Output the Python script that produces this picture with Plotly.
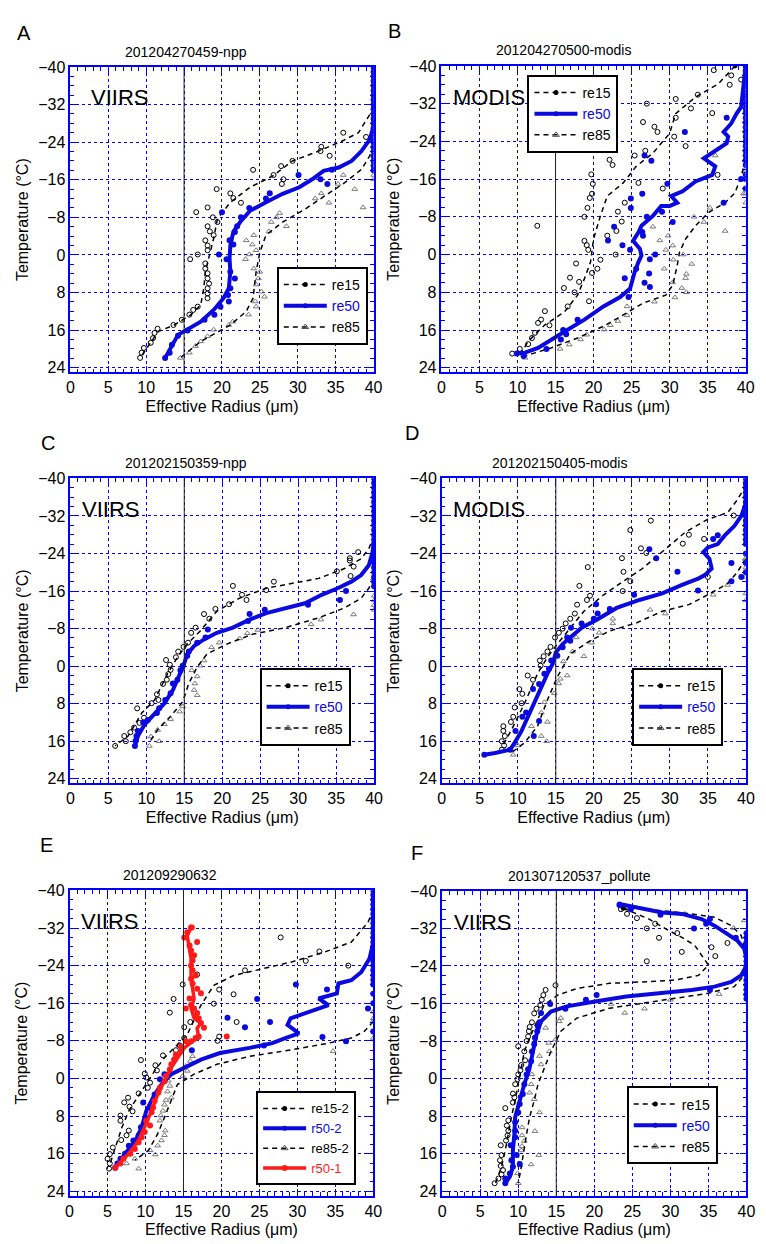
import plotly.graph_objects as go

# ======================= DATA (effective radius um, temperature C) =======================
# ---- Panel A : 201204270459-npp ----
A_re15_pts = [(9.2,21.9),(9.4,20.8),(9.7,19.8),(10.6,18.7),(10.9,17.7),(11.1,16.6),(11.5,15.7),(13.6,14.9),(14.7,13.8),
              (15.7,12.7),(16.2,11.7),(16.8,11.0),(18.1,9.2),(18.1,8.2),(18.1,7.1),(18.3,6.1),(18.1,5.0),(18.1,3.9),
              (17.8,2.9),(17.8,1.8),(15.8,0.9),(16.8,-0.1),(18.1,-1.0),(18.1,-2.0),(17.8,-3.1),(18.9,-4.2),(18.4,-5.0),
              (18.1,-6.1),(19.4,-7.0),(18.8,-8.0),(16.6,-9.1),(18.1,-10.1),(22.5,-11.1),(21.5,-12.1),(21.1,-13.1),
              (19.3,-14.0),(24.1,-18.1),(28.1,-16.1),(27.9,-15.1),(26.8,-17.0),(27.8,-18.9),(29.3,-20.0),(34.2,-21.1),
              (33.0,-22.1),(33.1,-23.0),(36.0,-26.0),(39.0,-25.1)]
A_re15_curve = [(9.2,21.9),(11.6,16.3),(13.7,14.9),(15.9,12.7),(17.2,10.6),(17.6,7.1),(17.8,3.6),(18.9,-3.5),(19.4,-7.7),
                (21.1,-11.2),(23.7,-14.4),(26.7,-16.8),(29.3,-20.0),(32.3,-21.8),(35.8,-24.2),(38.0,-26.0),(39.5,-29.9),(40,-31.6)]
A_re50_pts = [(12.5,21.9),(13.1,20.8),(13.4,19.1),(14.2,17.2),(15.45,16.1),(17.7,13.8),(19.0,12.7),(19.8,11.0),(20.9,9.9),
              (20.8,8.5),(21.1,7.1),(21.7,5.0),(21.1,3.6),(20.6,0.9),(19.6,-0.1),(21.5,-2.2),(21.0,-3.1),(21.7,-4.9),
              (22.0,-6.1),(22.5,-8.0),(20.0,-9.1),(23.6,-10.0),(25.8,-12.0),(26.3,-13.1),(30.1,-17.0),(33.0,-16.1),
              (33.9,-15.1),(34.5,-18.1)]
A_re50_col40 = [-40,-39,-38,-37,-36,-35,-34,-33,-32,-31,-30,-29,-28,-27,-26,-25,-24,-23,-22,-21,-20,-19,-18]
A_re50_curve = [(12.5,21.9),(14.2,17.0),(15.45,15.9),(17.2,14.2),(18.9,11.7),(20.2,9.2),(20.9,7.1),(21.1,3.6),(21.0,0.8),
                (21.1,-2.0),(21.5,-4.9),(22.4,-7.0),(23.7,-9.4),(25.8,-11.2),(28.0,-13.0),(30.2,-14.4),(31.9,-16.1),
                (33.4,-17.9),(35.4,-18.6),(37.1,-20.0),(38.4,-22.1),(39.5,-24.6),(40,-27.4),(40,-40)]
A_re85_pts = [(14.5,21.9),(15.7,20.8),(16.5,19.4),(17.2,18.4),(18.1,17.3),(18.9,15.9),(20.9,14.9),(21.4,14.2),(23.5,12.7),
              (24.5,11.0),(24.4,9.9),(25.6,8.9),(25.2,7.8),(24.5,6.3),(24.8,5.0),(25.0,3.6),(24.2,2.9),(23.1,0.9),
              (23.6,-0.1),(24.5,-1.0),(24.0,-2.2),(23.2,-3.1),(24.2,-4.2),(26.2,-5.0),(26.5,-7.0),(27.2,-8.0),(27.6,-8.9),
              (28.5,-6.1),(32.3,-12.0),(33.1,-13.1),(34.1,-11.1),(35.3,-15.1),(36.0,-17.0),(37.5,-14.0),(38.6,-10.1),
              (40,-16.1),(40,-17.0),(40,-18.0)]
A_re85_curve = [(14.5,21.9),(17.2,18.4),(21.1,14.9),(23.2,12.0),(24.1,9.2),(24.5,3.6),(25.0,-0.6),(25.8,-4.2),(28.0,-7.0),
                (31.0,-9.8),(33.6,-12.6),(36.2,-15.4),(38.4,-18.2),(39.5,-21.1),(40,-23.2)]

# ---- Panel B : 201204270500-modis ----
B_re15_pts = [(9.3,21.0),(10.3,20.0),(11.4,19.0),(11.9,17.7),(12.3,16.6),(12.7,14.5),(13.1,13.8),(13.6,12.0),(14.2,15.0),
              (16.6,11.0),(16.1,7.1),(16.9,4.9),(17.5,8.0),(17.7,1.9),(18.1,5.8),(19.4,9.9),(19.8,3.9),(20.5,3.0),
              (20.9,1.1),(19.3,-1.0),(19.1,-2.0),(18.8,-2.9),(18.8,-8.0),(19.2,-9.9),(19.5,-12.0),(19.8,-12.9),
              (19.9,-15.0),(19.7,-17.0),(21.8,-4.0),(23.0,-5.0),(23.2,-9.1),(23.7,-7.0),(24.1,-11.0),(22.9,0.0),
              (22.1,-20.1),(22.5,-19.0),(12.6,-6.1),(25.4,-21.0),(25.9,-15.2),(26.8,-22.0),(26.5,-28.1),(27.0,-32.0),
              (28.0,-27.1),(28.4,-26.0),(29.1,-14.0),(30.6,-25.0),(30.8,-29.0),(30.8,-33.0),(32.1,-23.0),(32.8,-31.0),
              (33.7,-33.9),(35.6,-30.0),(35.8,-39.1),(36.3,-16.9),(37.9,-36.0),(38.1,-38.0),(39.4,-37.1)]
B_re15_curve = [(10.1,21.9),(11.4,18.4),(13.6,14.9),(16.2,12.1),(17.9,8.6),(18.8,5.1),(19.6,1.6),(20.0,-3.3),(20.9,-8.2),
                (21.8,-12.4),(23.9,-15.2),(25.6,-18.7),(27.8,-21.5),(30.0,-25.7),(30.8,-29.9),(33.4,-33.4),(36.4,-36.2),(38.6,-40)]
B_re50_pts = [(9.9,21.0),(10.8,21.5),(13.8,20.0),(15.7,18.0),(16.0,16.0),(16.4,16.9),(17.9,13.8),(24.1,5.0),(24.6,9.0),
              (26.5,-4.0),(26.7,6.0),(27.4,6.9),(27.3,4.0),(27.4,1.0),(28.1,0.0),(24.8,-1.0),(23.8,-2.0),(21.9,-3.0),
              (22.7,-5.9),(25.6,3.0),(26.4,-4.8),(27.0,-8.0),(29.0,-9.1),(30.4,-6.9),(24.9,-11.9),(24.9,-9.9),
              (26.4,-12.9),(29.7,-15.0),(26.7,-21.0),(27.6,-19.9),(32.0,-26.0),(37.5,-29.0),(37.1,-11.0),(39.4,-16.0)]
B_re50_col40 = [-40,-39,-38,-37,-36,-35,-34,-33,-32,-31,-30,-29,-28,-27,-26,-25,-24,-23,-22,-21,-20,-19,-17,-16,-14]
B_re50_curve = [(9.9,21.0),(11.0,20.8),(12.7,19.8),(14.4,18.0),(16.2,16.3),(18.8,13.8),(21.3,11.0),(23.5,9.0),(24.8,7.2),
                (25.4,3.7),(25.9,1.6),(26.3,0.2),(26.1,-1.2),(25.2,-2.9),(25.9,-4.7),(26.3,-6.1),(27.8,-8.2),(28.9,-10.3),
                (30.0,-10.3),(31.0,-11.0),(30.2,-12.4),(31.7,-13.4),(33.4,-15.5),(35.6,-16.9),(36.0,-18.7),(34.5,-20.4),
                (35.6,-21.5),(37.5,-23.6),(37.7,-25.0),(37.1,-26.0),(38.1,-27.8),(38.8,-29.9),(39.4,-31.3),(39.7,-34.8),(40,-40)]
B_re85_pts = [(11.0,21.9),(15.6,20.0),(16.8,19.1),(18.3,18.0),(19.1,17.0),(21.4,15.9),(22.2,15.0),(23.2,14.1),(24.4,12.9),
              (24.4,11.0),(28.0,10.0),(30.7,9.1),(31.6,7.1),(32.2,8.0),(32.1,5.0),(32.2,4.1),(30.4,5.9),(29.3,3.0),
              (32.9,2.0),(30.5,1.1),(31.8,0.0),(29.5,-1.0),(28.7,-3.0),(29.8,-4.0),(30.4,-1.9),(27.8,-5.9),(33.2,-8.0),
              (34.5,-6.9),(35.3,-9.9),(37.3,-5.0),(36.0,-21.0),(39.7,-12.9),(40,-11.0),(40,-13.0),(40,-16.0),(40,-18.0)]
B_re85_curve = [(11.0,21.5),(14.4,19.8),(17.9,17.7),(21.3,15.2),(23.9,12.8),(26.5,10.3),(29.5,8.6),(30.4,6.5),(31.0,2.3),
                (31.3,-0.5),(32.1,-3.3),(33.4,-6.1),(35.1,-8.9),(37.3,-11.0),(38.6,-13.1),(39.4,-16.6),(40,-20.1)]

# ---- Panel C : 201202150359-npp ----
C_re15_pts = [(5.9,17.0),(7.3,16.0),(7.1,14.9),(7.9,14.1),(8.4,13.1),(9.1,12.1),(9.7,11.0),(8.8,9.0),(10.7,7.9),(11.6,7.2),
              (11.4,6.0),(12.2,3.8),(12.7,2.9),(12.9,1.7),(13.2,0.8),(12.6,-1.3),(13.1,-0.3),(13.9,-1.9),(14.2,-3.1),
              (14.9,-4.1),(15.5,-5.0),(15.9,-7.1),(16.5,-8.2),(17.6,-11.1),(18.3,-10.1),(19.1,-12.2),(20.9,-13.2),
              (21.4,-17.1),(22.6,-15.2),(23.2,-14.1),(25.8,-16.2),(26.8,-18.0),(35.1,-20.2),(36.9,-19.2),(37.3,-21.2),
              (36.8,-22.5),(37.9,-24.3),(36.8,-23.0)]
C_re15_curve = [(5.9,17.0),(7.6,14.9),(9.4,10.0),(11.1,7.2),(12.8,1.6),(14.1,-1.9),(15.4,-4.7),(17.1,-7.5),(19.3,-11.7),
                (22.3,-14.5),(25.8,-16.6),(29.2,-17.6),(32.7,-18.7),(36.1,-20.8),(38.3,-22.9),(39.3,-25.0),(40,-27.8)]
C_re50_pts = [(8.5,17.0),(8.6,15.9),(8.7,14.9),(8.9,13.8),(9.6,12.0),(10.2,11.5),(11.4,10.0),(11.7,9.0),(12.5,7.2),
              (13.2,5.8),(13.5,3.7),(14.1,2.9),(14.5,0.9),(14.8,-0.1),(15.4,-2.2),(15.6,-3.1),(16.7,-5.0),(17.8,-6.1),
              (18.1,-7.8),(23.6,-11.1),(23.4,-9.6),(25.6,-12.0),(31.3,-13.1),(35.5,-14.1),(36.3,-16.0)]
C_re50_col40 = [-40,-39,-38,-37,-36,-35,-34,-33,-32,-31,-30,-29,-28,-27,-26,-25,-24,-23,-22,-21,-20,-19,-18,-17]
C_re50_curve = [(8.5,17.0),(8.9,14.9),(9.8,12.4),(11.1,10.3),(12.4,7.9),(13.5,5.1),(14.3,2.3),(14.9,-0.1),(15.4,-2.6),
                (16.3,-4.3),(17.6,-5.7),(19.3,-7.1),(21.4,-8.2),(23.6,-9.9),(25.8,-11.3),(28.3,-12.4),(30.9,-13.4),
                (33.1,-15.2),(35.2,-16.6),(37.0,-18.0),(38.3,-19.4),(39.3,-21.5),(39.8,-24.3),(40,-27.1),(40,-40)]
C_re85_pts = [(10.4,17.0),(11.7,16.0),(10.6,15.0),(11.5,13.6),(12.4,12.4),(13.2,11.3),(14.4,9.7),(14.8,8.6),(16.7,6.2),
              (16.3,5.1),(16.4,3.7),(16.7,2.2),(16.0,0.9),(17.1,-0.1),(17.6,-1.2),(18.6,-4.0),(19.6,-5.0),(22.3,-5.9),
              (23.3,-7.0),(24.7,-7.7),(31.7,-8.9),(33.0,-9.9),(37.3,-11.0),(40,-12.0),(40,-13.0),(40,-14.0),(40,-15.0)]
C_re85_curve = [(10.4,16.3),(11.5,13.5),(13.2,10.7),(14.8,7.6),(15.6,3.7),(16.7,0.2),(18.0,-2.6),(20.6,-4.7),(24.0,-6.8),
                (28.3,-8.2),(32.7,-10.3),(36.1,-12.4),(38.3,-14.5),(39.3,-16.6),(40,-18.7)]

# ---- Panel D : 201202150405-modis ----
D_re15_pts = [(7.9,17.8),(8.2,16.9),(7.9,16.0),(8.3,14.9),(8.1,13.8),(8.1,12.8),(9.1,11.9),(9.4,10.8),(9.6,8.8),(10.5,7.9),
              (10.6,5.9),(10.2,4.9),(11.3,2.0),(12.0,2.9),(13.0,-0.1),(12.9,-1.2),(13.4,-2.1),(13.9,-3.1),(14.3,-4.1),
              (14.9,-6.1),(15.4,-7.1),(15.9,-8.0),(16.3,-9.1),(16.9,-10.1),(17.5,-11.2),(17.8,-13.1),(19.1,-14.1),
              (19.5,-15.0),(18.1,-17.1),(19.2,-21.1),(23.8,-16.0),(23.9,-20.1),(23.7,-23.0),(24.8,-18.1),(24.8,-29.0),
              (26.2,-25.1),(26.9,-24.1),(27.5,-31.0),(31.7,-26.1),(32.5,-28.0),(34.5,-27.1),(35.0,-19.0),(38.4,-32.1)]
D_re15_curve = [(7.9,17.3),(9.2,13.5),(10.9,7.9),(12.6,1.6),(13.9,-1.9),(15.2,-4.7),(16.9,-8.2),(18.7,-11.7),(21.3,-15.2),
                (23.8,-18.0),(26.4,-20.8),(29.0,-24.3),(32.0,-28.5),(35.0,-31.3),(37.6,-32.7),(38.9,-35.5),(40,-38.6)]
D_re50_pts = [(5.6,18.9),(9.0,17.8),(9.7,13.8),(10.6,10.8),(12.0,4.9),(12.8,11.7),(12.1,14.9),(11.1,9.9),(12.8,3.8),
              (13.5,1.6),(14.1,0.6),(14.4,-1.2),(15.2,-2.2),(15.9,-4.0),(16.5,-6.1),(17.0,-8.2),(16.9,-5.4),(18.4,-9.1),
              (20.0,-10.1),(20.5,-11.2),(20.3,-13.2),(22.1,-12.2),(25.3,-15.2),(31.0,-20.1),(33.7,-16.1),(27.3,-24.9),
              (28.2,-23.0),(36.3,-27.9),(38.1,-22.0),(38.1,-18.1),(39.4,-19.0),(35.7,-27.1)]
D_re50_col40 = [-40,-39,-38,-37,-36,-35,-34,-33,-32,-31,-30,-29,-28,-27,-26,-24,-22,-20]
D_re50_curve = [(5.6,18.9),(7.0,18.5),(9.0,17.8),(9.6,16.3),(10.5,13.8),(11.3,11.0),(12.2,7.9),(13.1,4.4),(13.9,1.6),
                (14.6,-0.5),(15.0,-2.9),(15.9,-4.7),(16.9,-6.1),(18.4,-8.2),(20.4,-9.9),(23.0,-12.4),(26.0,-14.1),
                (29.0,-15.5),(31.6,-17.3),(33.8,-18.7),(34.6,-19.4),(35.5,-20.8),(35.2,-22.9),(34.4,-24.3),(35.0,-25.3),
                (36.3,-26.0),(37.2,-27.8),(38.5,-29.9),(39.4,-32.0),(40,-34.8),(40,-40)]
D_re85_pts = [(9.4,18.9),(10.0,16.9),(11.8,12.8),(13.1,14.9),(13.8,16.0),(13.1,9.9),(13.5,7.7),(13.9,11.9),(14.8,5.8),
              (15.4,3.7),(15.6,2.7),(16.5,2.0),(16.0,-1.0),(17.2,-3.1),(17.7,-6.1),(18.7,-2.1),(19.7,-5.0),(19.8,-8.0),
              (20.7,-7.1),(22.5,-10.1),(22.5,-9.1),(27.4,-12.0),(29.4,-11.2),(35.7,-15.2),(37.6,-17.3),(40,-14.0),
              (40,-15.5),(40,-19.0),(40,-21.0)]
D_re85_curve = [(9.2,18.4),(10.9,16.3),(12.6,12.8),(13.9,7.2),(15.2,2.3),(16.9,-2.6),(19.5,-5.4),(22.1,-7.5),(25.6,-9.2),
                (29.0,-11.7),(32.5,-13.1),(35.0,-15.2),(37.6,-17.6),(38.9,-20.1),(40,-22.9)]

# ---- Panel E : 201209290632 ----
E_re15_pts = [(5.2,19.2),(5.3,18.1),(5.0,17.1),(5.3,16.1),(5.7,14.7),(6.8,13.1),(7.5,12.1),(7.8,11.1),(6.7,9.0),(6.7,7.9),
              (8.3,7.0),(7.9,6.0),(7.2,5.1),(7.7,4.1),(9.1,3.2),(10.3,2.0),(10.6,0.9),(10.1,-0.2),(9.9,-1.0),(9.4,-3.9),
              (11.5,-1.7),(11.3,-2.8),(12.3,-4.9),(14.0,-6.0),(14.5,-7.0),(15.1,-8.6),(19.7,-8.9),(19.5,-8.0),(22.0,-12.0),
              (19.0,-15.9),(19.7,-18.9),(21.6,-17.9),(13.7,-16.9),(13.2,-14.0),(15.1,-10.9),(15.9,-12.0),(14.9,-20.0),
              (16.8,-22.1),(23.1,-23.0),(31.1,-25.0),(32.9,-27.0),(36.7,-24.0),(27.8,-30.0)]
E_re15_curve = [(5.2,18.8),(6.0,14.6),(6.9,10.4),(7.8,6.9),(9.5,2.7),(11.2,-1.6),(12.5,-4.4),(13.8,-6.5),(15.5,-9.3),
                (17.3,-15.6),(19.0,-19.8),(21.6,-21.9),(25.5,-23.3),(29.3,-24.8),(33.6,-26.9),(37.1,-29.0),(39.3,-33.2),(40,-36.0)]
E_r502_pts = [(6.0,19.0),(6.3,18.1),(6.7,17.1),(7.3,16.0),(7.8,14.3),(8.4,13.2),(9.1,12.1),(9.4,10.4),(9.7,5.1),(10.0,8.3),
              (10.6,6.2),(11.2,3.4),(11.9,0.2),(12.5,-0.9),(13.8,-4.0),(16.1,-6.0),(20.8,-12.9),(23.1,-10.9),(24.7,-16.9),
              (26.4,-12.0),(25.6,-7.0),(29.8,-20.0),(33.3,-8.8),(33.9,-18.9),(36.4,-7.9),(39.3,-14.9),(40,-10.0),
              (40,-16.0),(40,-18.0)]
E_r502_col40 = [-40,-39,-38,-37,-36,-35,-34,-33,-32,-31,-30,-29,-28,-27,-26,-25,-24,-23,-22,-21,-20]
E_r502_curve = [(6.0,19.0),(7.3,16.0),(8.6,13.5),(9.5,10.4),(10.1,6.9),(11.2,3.4),(12.1,1.3),(13.4,-0.9),(15.1,-2.3),
                (17.3,-4.0),(19.8,-5.4),(23.7,-6.5),(26.7,-7.5),(28.5,-8.6),(30.2,-9.6),(29.3,-10.7),(28.7,-11.4),
                (29.1,-12.8),(31.1,-13.9),(32.8,-14.9),(34.1,-15.6),(32.8,-17.0),(35.2,-18.1),(35.4,-20.2),(37.1,-20.9),
                (38.4,-22.6),(39.5,-25.5),(40,-29.0),(40,-40)]
E_re852_pts = [(7.5,18.1),(9.1,19.2),(8.6,17.1),(10.6,15.3),(11.3,16.2),(11.6,14.3),(12.1,13.2),(12.5,12.1),(12.6,11.1),
               (11.9,9.0),(12.0,7.9),(12.3,6.9),(12.5,5.6),(12.7,4.6),(13.4,4.1),(12.9,2.8),(13.2,1.6),(13.0,0.5),
               (14.9,-0.5),(15.5,-1.6),(15.3,-2.6),(15.9,-3.7),(16.2,-4.7),(34.7,-5.8),(40,-8.6),(40,-12.8),(40,-14.2)]
E_re852_curve = [(8.6,17.4),(10.4,15.3),(11.6,11.8),(12.5,8.3),(13.4,4.8),(14.2,1.3),(16.4,-0.9),(19.4,-3.0),(23.7,-4.7),
                 (29.3,-6.1),(34.1,-7.5),(37.1,-8.6),(38.8,-10.0),(40,-12.1)]
E_r501_pts = [(6.04,19.0),(6.7,18.1),(7.1,17.1),(8.0,16.0),(8.6,15.0),(9.1,13.6),(9.5,12.5),(9.9,11.4),(10.6,10.0),
              (10.1,9.0),(10.8,7.2),(11.0,6.2),(11.2,4.8),(11.7,3.0),(11.9,2.0),(12.5,0.6),(12.7,-0.5),(13.2,-1.9),
              (13.4,-3.0),(13.8,-4.0),(14.0,-5.1),(14.7,-5.8),(14.7,-6.8),(15.3,-7.9),(16.0,-7.9),(16.6,-8.6),
              (17.0,-8.9),(20.7,-8.9),(17.7,-10.8),(17.3,-11.8),(17.0,-12.8),(16.8,-13.9),(16.4,-14.9),(15.3,-14.9),
              (16.0,-15.6),(15.8,-17.0),(17.3,-18.1),(16.8,-19.1),(16.2,-20.2),(16.0,-21.2),(16.6,-21.9),(16.2,-23.0),
              (16.0,-24.0),(16.2,-25.1),(16.4,-26.2),(16.0,-27.2),(15.8,-28.3),(16.8,-29.0),(15.1,-30.0),(15.5,-31.1),
              (16.1,-32.1)]
E_r501_curve = [(6.0,19.0),(7.8,16.0),(9.1,13.2),(9.9,10.4),(10.8,6.9),(11.6,3.4),(12.5,0.5),(13.4,-2.3),(14.2,-4.4),
                (15.1,-6.5),(16.2,-7.9),(17.0,-8.6),(16.8,-10.7),(17.3,-11.7),(16.4,-12.8),(16.0,-14.9),(16.4,-17.0),
                (16.2,-19.1),(16.0,-21.2),(16.0,-23.3),(16.0,-25.5),(15.7,-28.3),(15.5,-30.4),(16.0,-32.1)]

# ---- Panel F : 201307120537_pollute ----
F_re15_pts = [(6.9,22.3),(7.4,21.3),(7.8,20.4),(8.0,19.5),(7.7,18.6),(7.6,17.4),(7.8,16.3),(7.7,14.2),(8.4,13.2),(8.6,12.1),
              (8.7,11.1),(8.5,10.0),(8.7,8.9),(8.3,6.3),(9.3,5.1),(9.5,4.0),(9.3,3.2),(9.6,1.2),(9.9,0.1),(10.0,-0.9),
              (10.3,-1.8),(10.4,-2.9),(10.9,-3.9),(10.0,-6.9),(10.8,-5.8),(11.1,-8.0),(11.3,-9.0),(11.4,-10.1),(11.5,-11.0),
              (11.8,-12.0),(12.1,-13.9),(12.4,-14.9),(12.9,-15.7),(13.1,-16.8),(13.3,-17.8),(13.6,-18.9),(14.9,-19.9),
              (26.9,-25.0),(28.5,-30.0),(30.9,-31.0),(31.5,-27.0),(35.4,-28.0),(35.9,-26.1),(37.5,-28.9),(28.0,-33.0),
              (26.9,-32.0),(25.6,-34.2),(24.3,-35.1),(23.5,-36.1)]
F_re15_curve = [(7.0,22.3),(7.8,18.8),(8.3,15.3),(8.7,11.8),(9.1,8.2),(9.6,4.7),(10.0,1.2),(10.8,-5.8),(11.7,-9.4),
                (12.6,-12.9),(13.4,-15.7),(15.2,-17.8),(17.7,-19.2),(22.0,-20.3),(26.3,-20.6),(30.6,-21.0),(33.7,-22.0),
                (35.0,-24.2),(34.1,-26.3),(33.2,-28.4),(31.5,-30.1),(29.4,-31.9),(27.2,-34.0),(25.5,-35.1),(23.8,-36.3)]
F_re50_pts = [(8.3,22.3),(8.3,21.3),(8.9,20.2),(9.3,18.8),(9.1,17.4),(10.2,18.2),(9.8,16.3),(9.0,14.2),(9.6,12.5),(9.6,11.1),
              (9.6,9.3),(10.0,7.2),(10.2,5.4),(10.6,3.3),(10.8,1.2),(11.1,-0.9),(11.3,-2.0),(11.7,-3.7),(11.8,-5.8),
              (12.1,-7.3),(12.2,-8.7),(12.5,-10.1),(12.6,-11.1),(12.8,-12.0),(13.0,-14.0),(14.2,-15.9),(16.2,-14.9),
              (18.9,-16.8),(20.3,-17.8),(35.2,-18.9),(33.1,-32.0),(34.7,-33.0),(35.2,-34.0),(28.7,-34.9),(24.8,-36.1),
              (23.3,-37.0),(38.6,-30.0)]
F_re50_col40 = [-31,-30,-29,-28,-27,-26,-25,-24,-23,-22,-21,-20,-19,-18,-17]
F_re50_curve = [(8.3,22.3),(8.9,20.9),(9.3,18.8),(9.3,15.3),(9.5,11.8),(9.6,8.2),(10.2,4.7),(10.8,1.2),(11.5,-2.3),
                (11.9,-5.8),(12.4,-9.4),(13.0,-12.2),(14.3,-14.3),(16.4,-15.4),(19.9,-16.4),(24.2,-17.5),(28.5,-18.2),
                (32.8,-18.9),(35.8,-19.6),(38.0,-20.6),(39.3,-22.0),(39.9,-23.8),(40,-25.6),(39.7,-27.7),(38.8,-29.4),
                (37.5,-30.8),(35.8,-32.6),(34.1,-34.0),(31.5,-35.1),(28.9,-35.4),(26.3,-36.1),(24.8,-36.7),(23.3,-37.2)]
F_re85_pts = [(10.0,22.3),(9.9,20.2),(10.2,18.5),(11.7,18.3),(12.7,16.3),(10.4,15.3),(10.5,14.4),(10.8,13.3),(10.5,12.1),
              (12.2,11.2),(10.5,10.4),(12.8,7.2),(12.1,4.4),(11.5,3.0),(11.7,1.2),(11.8,-0.9),(13.0,-3.0),(12.8,-4.8),
              (14.1,-5.8),(14.0,-7.6),(14.9,-8.3),(13.6,-10.8),(15.4,-12.2),(15.6,-12.9),(22.2,-15.9),(24.0,-14.0),
              (26.6,-14.9),(30.0,-16.8),(36.4,-18.0),(38.3,-32.1),(39.7,-33.7),(31.9,-35.1),(40,-18.0),(40,-19.0),
              (40,-20.0),(40,-21.0)]
F_re85_curve = [(10.0,22.3),(10.4,18.8),(10.8,15.3),(11.1,11.8),(11.5,8.2),(12.1,4.7),(12.6,1.2),(13.4,-2.3),(14.3,-5.8),
                (15.6,-10.1),(17.7,-12.9),(22.0,-15.0),(26.3,-16.1),(30.6,-17.1),(35.0,-18.2),(38.4,-19.6),(39.7,-22.0),
                (39.9,-24.9),(39.8,-27.7),(39.3,-30.5),(38.0,-32.6),(35.8,-34.4),(32.8,-35.1),(28.5,-35.8),(24.6,-36.5)]

# labels
panel_letters = ["A", "B", "C", "D", "E", "F"]
panel_titles = ["201204270459-npp", "201204270500-modis", "201202150359-npp",
                "201202150405-modis", "201209290632", "201307120537_pollute"]
sensor_labels = ["VIIRS", "MODIS", "VIIRS", "MODIS", "VIIRS", "VIIRS"]
ref_radius = 15

# ======================= STYLE / LAYOUT =======================
W, H = 766, 1244
BLUE = "#0000ff"
CURVE_BLUE = "#0a0ae0"
RED = "#ff1a1a"
GRAY = "#7a7a7a"
FONT = "Liberation Sans, Arial, sans-serif"
TRANSP = "rgba(0,0,0,0)"

# plot areas in pixels: (left, right, top, bottom)
boxes = [(67.5, 376, 59.5, 368), (445, 754.5, 58.5, 368),
         (67.5, 376.5, 475, 783), (445.3, 754.7, 475, 783),
         (66.7, 375.7, 891, 1199.5), (445.7, 755.3, 891.5, 1199.5)]
legend_pos = [(277.5, 261.5), (532.5, 67.5), (260, 666.5), (639, 666.5), (256.5, 1094), (633.5, 1089)]
legend_font = [14, 14, 14, 14, 13, 14]
letter_pos = [(20, 25), (397, 23), (45, 439), (415, 429), (43, 845), (420, 853)]
title_pos = [(185, 44), (569, 42), (185, 459), (565, 459), (169, 875), (585, 876)]
label_xpos = [2.5, 1.3, 1.25, 1.2, 1.3, 1.3]
label_ypos = [-33.6, -33.4, -33.4, -33.3, -33.4, -33.3]


def unzip(pairs):
    return [p[0] for p in pairs], [p[1] for p in pairs]


fig = go.Figure()


def add_points(i, pairs, kind):
    x, y = unzip(pairs)
    if kind == "c":
        marker = dict(symbol="circle-open", size=5, color="black", line=dict(width=1))
    elif kind == "t":
        marker = dict(symbol="triangle-up-open", size=5, color=GRAY, line=dict(width=1))
    elif kind == "b":
        marker = dict(symbol="circle", size=6, color=CURVE_BLUE)
    else:
        marker = dict(symbol="circle", size=6, color=RED)
    ax = "" if i == 0 else str(i + 1)
    fig.add_trace(go.Scatter(x=x, y=y, mode="markers", marker=marker, showlegend=False,
                             xaxis="x" + ax, yaxis="y" + ax, hoverinfo="skip"))


def add_column(i, temps, kind):
    add_points(i, [(40, t) for t in temps], kind)


def add_curve(i, pairs, kind, name, rank):
    # drawn from the cold (top) end so the single legend-marker point sits at the curve's top end
    x, y = unzip(pairs[::-1])
    n = len(x)
    ax = "" if i == 0 else str(i + 1)
    if kind == "c":
        line = dict(color="black", width=1.5, dash="5px,4px")
        mk = dict(symbol="circle", size=5, color=["black"] + [TRANSP] * (n - 1))
    elif kind == "t":
        line = dict(color="black", width=1.5, dash="5px,4px")
        mk = dict(symbol="triangle-up-open", size=6, color=["#555555"] + [TRANSP] * (n - 1))
    elif kind == "b":
        line = dict(color=CURVE_BLUE, width=4)
        mk = dict(symbol="circle", size=5, color=[CURVE_BLUE] + [TRANSP] * (n - 1))
    else:
        line = dict(color=RED, width=3.5)
        mk = dict(symbol="circle", size=6, color=[RED] + [TRANSP] * (n - 1))
    fig.add_trace(go.Scatter(x=x, y=y, mode="lines+markers", line=line, marker=mk, name=name,
                             legendrank=rank, legend="legend" + ax,
                             xaxis="x" + ax, yaxis="y" + ax, hoverinfo="skip"))


def blue_name(t):
    return '<span style="color:%s">%s</span>' % (CURVE_BLUE, t)


def red_name(t):
    return '<span style="color:%s">%s</span>' % (RED, t)


standard = [
    (A_re15_pts, A_re15_curve, A_re50_pts, A_re50_col40, A_re50_curve, A_re85_pts, A_re85_curve),
    (B_re15_pts, B_re15_curve, B_re50_pts, B_re50_col40, B_re50_curve, B_re85_pts, B_re85_curve),
    (C_re15_pts, C_re15_curve, C_re50_pts, C_re50_col40, C_re50_curve, C_re85_pts, C_re85_curve),
    (D_re15_pts, D_re15_curve, D_re50_pts, D_re50_col40, D_re50_curve, D_re85_pts, D_re85_curve),
    None,
    (F_re15_pts, F_re15_curve, F_re50_pts, F_re50_col40, F_re50_curve, F_re85_pts, F_re85_curve),
]

for i, d in enumerate(standard):
    if d is None:
        continue
    p15, c15, p50, col50, c50, p85, c85 = d
    add_points(i, p85, "t")
    add_points(i, p15, "c")
    add_curve(i, c85, "t", "re85", 3)
    add_curve(i, c15, "c", "re15", 1)
    add_points(i, p50, "b")
    add_column(i, col50, "b")
    add_curve(i, c50, "b", blue_name("re50"), 2)

# panel E
add_points(4, E_re852_pts, "t")
add_points(4, E_re15_pts, "c")
add_curve(4, E_re852_curve, "t", "re85-2", 3)
add_curve(4, E_re15_curve, "c", "re15-2", 1)
add_points(4, E_r502_pts, "b")
add_column(4, E_r502_col40, "b")
add_curve(4, E_r502_curve, "b", blue_name("r50-2"), 2)
add_points(4, E_r501_pts, "r")
add_curve(4, E_r501_curve, "r", red_name("r50-1"), 4)

layout = dict(width=W, height=H, margin=dict(l=0, r=0, t=0, b=0), paper_bgcolor="white",
              plot_bgcolor="white", font=dict(family=FONT, color="black"), showlegend=True)
annotations = []
shapes = []
for i in range(6):
    l, r, t, b = boxes[i]
    ax = "" if i == 0 else str(i + 1)
    common = dict(showline=True, linecolor=BLUE, linewidth=1.5, mirror="allticks", ticks="inside",
                  ticklen=7, tickcolor=BLUE, tickwidth=1, showgrid=True, gridcolor=BLUE, griddash="dot",
                  gridwidth=1, zeroline=False, tickfont=dict(size=16, family=FONT, color="black"),
                  title_font=dict(size=16, family=FONT, color="black"))
    layout["xaxis" + ax] = dict(common, domain=[l / W, r / W], range=[0, 40], tickmode="linear", tick0=0, dtick=5,
                                anchor="y" + ax, title=dict(text="Effective Radius (μm)", standoff=5),
                                minor=dict(ticks="inside", dtick=1, tick0=0, ticklen=4, tickcolor=BLUE,
                                           tickwidth=1, showgrid=False))
    layout["yaxis" + ax] = dict(common, domain=[1 - b / H, 1 - t / H], range=[25, -40], tickmode="linear",
                                tick0=-40, dtick=8,
                                anchor="x" + ax, title=dict(text="Temperature (°C)", standoff=6),
                                minor=dict(ticks="inside", dtick=2, tick0=0, ticklen=4, tickcolor=BLUE,
                                           tickwidth=1, showgrid=False))
    lx, ly = legend_pos[i]
    layout["legend" + ax] = dict(x=lx / W, y=1 - ly / H, xanchor="left", yanchor="top", bgcolor="white",
                                 bordercolor="black", borderwidth=2, itemwidth=43,
                                 font=dict(size=legend_font[i], family=FONT, color="black"), tracegroupgap=0)
    shapes.append(dict(type="line", xref="x" + ax, yref="y" + ax + " domain", x0=ref_radius, x1=ref_radius,
                       y0=0, y1=1, line=dict(color="#222222", width=1), layer="above"))
    annotations.append(dict(text=sensor_labels[i], xref="x" + ax, yref="y" + ax, x=label_xpos[i], y=label_ypos[i],
                            xanchor="left", yanchor="middle", showarrow=False,
                            font=dict(size=22, family=FONT, color="black")))
    px, py = letter_pos[i]
    annotations.append(dict(text=panel_letters[i], xref="paper", yref="paper", x=px / W, y=1 - py / H,
                            xanchor="center", yanchor="middle", showarrow=False,
                            font=dict(size=20, family=FONT, color="black")))
    tx, ty = title_pos[i]
    annotations.append(dict(text=panel_titles[i], xref="paper", yref="paper", x=tx / W, y=1 - ty / H,
                            xanchor="center", yanchor="middle", showarrow=False,
                            font=dict(size=14, family=FONT, color="black")))

layout["annotations"] = annotations
layout["shapes"] = shapes
fig.update_layout(**layout)
fig.write_html("out.html")
